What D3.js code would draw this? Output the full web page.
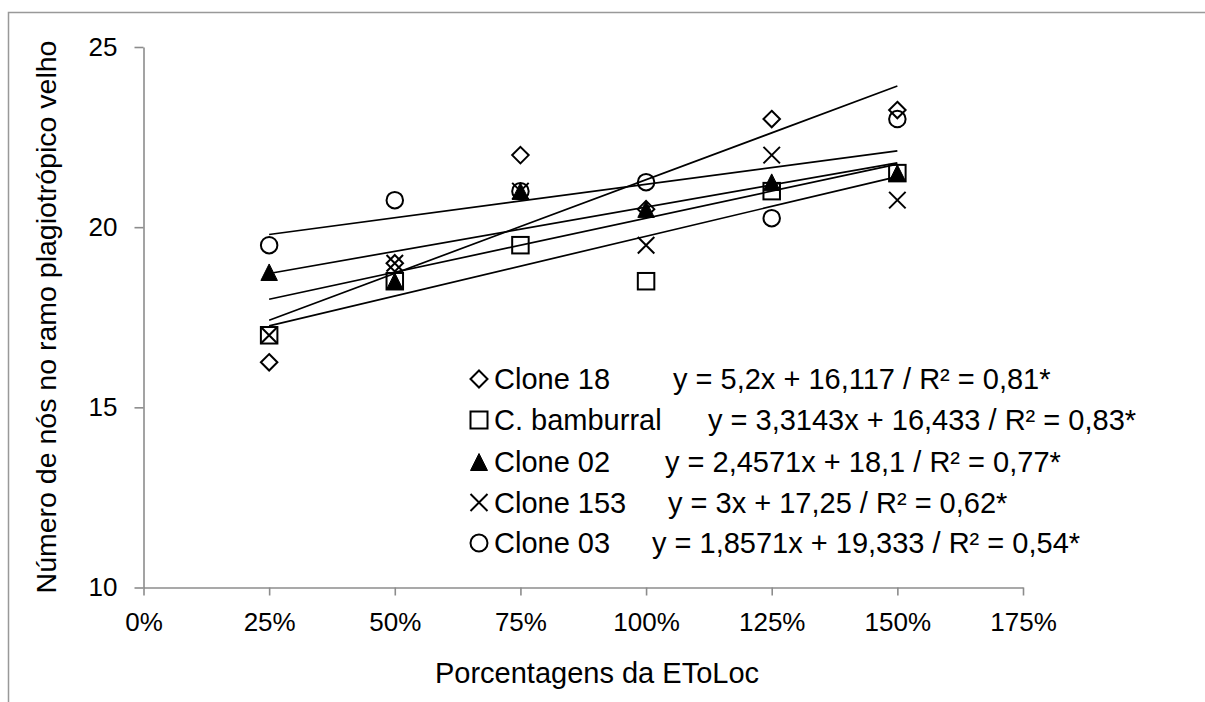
<!DOCTYPE html>
<html>
<head>
<meta charset="utf-8">
<script src="https://cdn.jsdelivr.net/npm/d3@7"></script>
<style>
  html, body { margin: 0; padding: 0; background: #fff; }
  svg text { font-family: "Liberation Sans", Arial, sans-serif; fill: #000; }
</style>
</head>
<body>
<svg id="chart" width="1205" height="702"></svg>
<script>
// ---- data ----
const xValues = [0.25, 0.5, 0.75, 1.0, 1.25, 1.5];
const xTicks = [0, 0.25, 0.5, 0.75, 1.0, 1.25, 1.5, 1.75];
const yTicks = [10, 15, 20, 25];
const seriesNames = ["Clone 18", "C. bamburral", "Clone 02", "Clone 153", "Clone 03"];
const clone18 = [16.25, 19, 22, 20.5, 23, 23.25];
const bamburral = [17, 18.5, 19.5, 18.5, 21, 21.5];
const clone02 = [18.75, 18.5, 21, 20.5, 21.25, 21.5];
const clone153 = [17, 19, 21, 19.5, 22, 20.75];
const clone03 = [19.5, 20.75, 21, 21.25, 20.25, 23];
const slopes = [5.2, 3.3143, 2.4571, 3, 1.8571];
const intercepts = [16.117, 16.433, 18.1, 17.25, 19.333];
const equations = [
  "y = 5,2x + 16,117 / R² = 0,81*",
  "y = 3,3143x + 16,433 / R² = 0,83*",
  "y = 2,4571x + 18,1 / R² = 0,77*",
  "y = 3x + 17,25 / R² = 0,62*",
  "y = 1,8571x + 19,333 / R² = 0,54*"
];
const markerTypes = ["diamond", "square", "triangle", "cross", "circle"];
const seriesValues = [clone18, bamburral, clone02, clone153, clone03];

// ---- layout ----
const svg = d3.select("#chart");
const x = d3.scaleLinear().domain([0, 1.75]).range([143.5, 1023]);
const y = d3.scaleLinear().domain([10, 25]).range([587.5, 47]);

// outer frame
svg.append("rect").attr("x", 8.5).attr("y", 12.5).attr("width", 1300).attr("height", 800)
  .attr("fill", "none").attr("stroke", "#999").attr("stroke-width", 1.5);

// axes
const axisColor = "#8c8c8c";
const gx = svg.append("g").attr("transform", `translate(0,${y(10)})`)
  .call(d3.axisBottom(x).tickValues(xTicks).tickFormat(d3.format(".0%")).tickSize(8).tickPadding(17).tickSizeOuter(0));
const gy = svg.append("g").attr("transform", `translate(${x(0)},0)`)
  .call(d3.axisLeft(y).tickValues(yTicks).tickSize(9).tickPadding(17).tickSizeOuter(0));
[gx, gy].forEach(g => {
  g.select(".domain").attr("stroke", axisColor).attr("stroke-width", 1.6);
  g.selectAll(".tick line").attr("stroke", axisColor).attr("stroke-width", 1.6);
  g.selectAll(".tick text").attr("font-size", 26).attr("font-family", "Liberation Sans, Arial, sans-serif").attr("fill", "#000");
});

// axis titles
svg.append("text").attr("x", 597).attr("y", 683).attr("text-anchor", "middle")
  .attr("font-size", 29).text("Porcentagens da EToLoc");
svg.append("text").attr("transform", `translate(56,317) rotate(-90)`).attr("text-anchor", "middle")
  .attr("font-size", 28.5).text("Número de nós no ramo plagiotrópico velho");

// marker drawing
function drawMarker(g, type, cx, cy, s) {
  const h = s / 2;
  if (type === "diamond") {
    g.append("path").attr("d", `M${cx},${cy - h}L${cx + h},${cy}L${cx},${cy + h}L${cx - h},${cy}Z`)
      .attr("fill", "none").attr("stroke", "#000").attr("stroke-width", 2);
  } else if (type === "square") {
    g.append("rect").attr("x", cx - h).attr("y", cy - h).attr("width", s).attr("height", s)
      .attr("fill", "none").attr("stroke", "#000").attr("stroke-width", 2);
  } else if (type === "triangle") {
    g.append("path").attr("d", `M${cx},${cy - h}L${cx + h},${cy + h}L${cx - h},${cy + h}Z`)
      .attr("fill", "#000").attr("stroke", "#000").attr("stroke-width", 1);
  } else if (type === "cross") {
    g.append("path").attr("d", `M${cx - h},${cy - h}L${cx + h},${cy + h}M${cx - h},${cy + h}L${cx + h},${cy - h}`)
      .attr("fill", "none").attr("stroke", "#000").attr("stroke-width", 2);
  } else if (type === "circle") {
    g.append("circle").attr("cx", cx).attr("cy", cy).attr("r", h)
      .attr("fill", "none").attr("stroke", "#000").attr("stroke-width", 2);
  }
}

// points
const pts = svg.append("g");
seriesValues.forEach((vals, i) => {
  vals.forEach((v, j) => drawMarker(pts, markerTypes[i], x(xValues[j]), y(v), 16.5));
});

// trendlines
const line = d3.line().x(d => x(d[0])).y(d => y(d[1]));
slopes.forEach((m, i) => {
  const x0 = d3.min(xValues), x1 = d3.max(xValues);
  svg.append("path").attr("d", line([[x0, m * x0 + intercepts[i]], [x1, m * x1 + intercepts[i]]]))
    .attr("fill", "none").attr("stroke", "#000").attr("stroke-width", 1.7);
});

// legend
const legendBaselines = [389, 430, 472, 512.5, 553];
const eqStarts = [673, 708, 665, 668, 652];
const lg = svg.append("g");
seriesNames.forEach((name, i) => {
  const by = legendBaselines[i];
  drawMarker(lg, markerTypes[i], 479, by - 10, 17);
  lg.append("text").attr("x", 494).attr("y", by).attr("font-size", 29).text(name);
  lg.append("text").attr("x", eqStarts[i]).attr("y", by).attr("font-size", 29).text(equations[i]);
});
</script>
</body>
</html>
